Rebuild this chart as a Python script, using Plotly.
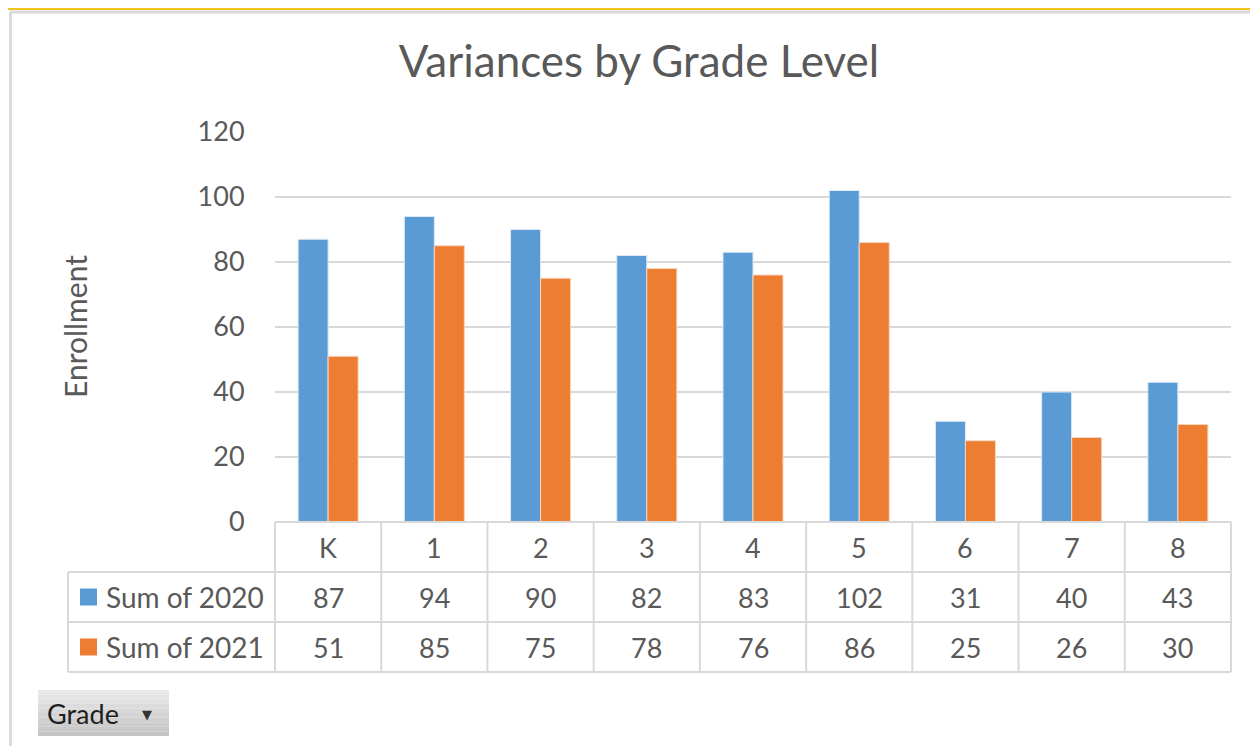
import plotly.graph_objects as go

# data
grades = ["K", "1", "2", "3", "4", "5", "6", "7", "8"]
sum_2020 = [87, 94, 90, 82, 83, 102, 31, 40, 43]
sum_2021 = [51, 85, 75, 78, 76, 86, 25, 26, 30]
series_names = ["Sum of 2020", "Sum of 2021"]
y_ticks = [0, 20, 40, 60, 80, 100, 120]

# the page body keeps its default 8px margin, so the figure is drawn
# 8px smaller and all positions below are given in window pixels
OX, OY = 8, 8
W, H = 1250, 738
BLUE = "#5B9BD5"
ORANGE = "#ED7D31"
GREY_TXT = "#595959"
LINE = "#D9D9D9"
FONT = "Lato"

# plot area in window pixels
X0, X1 = 275, 1231
Y_TOP, Y_ZERO = 132, 522
ROW_H = 50
TABLE_LEFT = 68


def px(x):
    return (x - OX) / W


def py(y):
    return 1 - (y - OY) / H


fig = go.Figure()
fig.add_trace(go.Bar(x=grades, y=sum_2020, name=series_names[0],
                     marker=dict(color=BLUE, line=dict(color="#DCE9F5", width=1))))
fig.add_trace(go.Bar(x=grades, y=sum_2021, name=series_names[1],
                     marker=dict(color=ORANGE, line=dict(color="#F8D5BE", width=1))))

shapes = []
annotations = []


def hline(x0, x1, y, color=LINE, width=2):
    shapes.append(dict(type="line", xref="paper", yref="paper",
                       x0=px(x0), x1=px(x1), y0=py(y), y1=py(y),
                       line=dict(color=color, width=width)))


def vline(x, y0, y1, color=LINE, width=2):
    shapes.append(dict(type="line", xref="paper", yref="paper",
                       x0=px(x), x1=px(x), y0=py(y0), y1=py(y1),
                       line=dict(color=color, width=width)))


def label(x, y, text, size, color=GREY_TXT, xref="paper", xanchor="center",
          family=FONT, angle=0):
    annotations.append(dict(x=x, y=y, xref=xref, yref="paper", text=text,
                            showarrow=False, xanchor=xanchor, yanchor="middle",
                            textangle=angle,
                            font=dict(family=family, size=size, color=color)))


# chart frame: yellow selection edge, grey chart border
hline(OX, OX + W, OY + 1, color="#F2C318", width=2)
hline(10, OX + W, OY + 4, color="#DADADA", width=3)
vline(10.5, OY + 4, OY + H, color="#DADADA", width=3)

# data table grid
cat_w = (X1 - X0) / len(grades)
hline(X0, X1, Y_ZERO)
hline(TABLE_LEFT, X1, Y_ZERO + ROW_H)
hline(TABLE_LEFT, X1, Y_ZERO + 2 * ROW_H)
hline(TABLE_LEFT, X1, Y_ZERO + 3 * ROW_H)
vline(TABLE_LEFT, Y_ZERO + ROW_H, Y_ZERO + 3 * ROW_H)
for i in range(len(grades) + 1):
    vline(X0 + i * cat_w, Y_ZERO, Y_ZERO + 3 * ROW_H)

for i, g in enumerate(grades):
    label(g, py(Y_ZERO + ROW_H / 2), g, 27, xref="x")
    for r, vals in enumerate([sum_2020, sum_2021]):
        label(g, py(Y_ZERO + ROW_H * (r + 1.5)), str(vals[i]), 27, xref="x")

# legend keys inside the table
for r, (name, col) in enumerate(zip(series_names, [BLUE, ORANGE])):
    yc = Y_ZERO + ROW_H * (r + 1.5)
    shapes.append(dict(type="rect", xref="paper", yref="paper",
                       x0=px(80), x1=px(97), y0=py(yc - 8.5), y1=py(yc + 8.5),
                       fillcolor=col, line=dict(width=0)))
    label(px(104), py(yc), name, 28, xanchor="left")

# "Grade" field button, faked gradient
btn_top, btn_bot = 690, 736
steps = 10
for k in range(steps):
    t = k / (steps - 1)
    g = int(232 - t * (232 - 196))
    y0 = btn_top + (btn_bot - btn_top) * k / steps
    y1 = btn_top + (btn_bot - btn_top) * (k + 1) / steps
    shapes.append(dict(type="rect", xref="paper", yref="paper",
                       x0=px(38), x1=px(169), y0=py(y1), y1=py(y0),
                       fillcolor=f"rgb({g},{g},{g})", line=dict(width=0)))
label(px(45), py(713), "Grade", 27, color="#1F1F1F", xanchor="left")
label(px(147), py(714), "▼", 13, color="#333333", family="DejaVu Sans")

# axis title
label(px(75), py(327), "Enrollment", 30, angle=-90)

fig.update_layout(
    width=W,
    height=H,
    margin=dict(l=0, r=0, t=0, b=0, autoexpand=False),
    paper_bgcolor="white",
    plot_bgcolor="white",
    barmode="group",
    bargap=0.435,
    bargroupgap=0,
    showlegend=False,
    title=dict(text="Variances by Grade Level", x=px(639), xanchor="center",
               y=py(62), yanchor="middle",
               font=dict(family=FONT, size=44, color=GREY_TXT)),
    xaxis=dict(domain=[px(X0), px(X1)], range=[-0.5, len(grades) - 0.5],
               showticklabels=False, showgrid=False, zeroline=False,
               showline=False, ticks=""),
    yaxis=dict(domain=[py(Y_ZERO), py(Y_TOP)], range=[0, 120],
               tickvals=y_ticks, showgrid=True, gridcolor=LINE, gridwidth=2,
               zeroline=False, showline=False, ticks="outside",
               ticklen=24, tickcolor="rgba(0,0,0,0)",
               tickfont=dict(family=FONT, size=27, color=GREY_TXT)),
    shapes=shapes,
    annotations=annotations,
)

fig.write_html("out.html")
